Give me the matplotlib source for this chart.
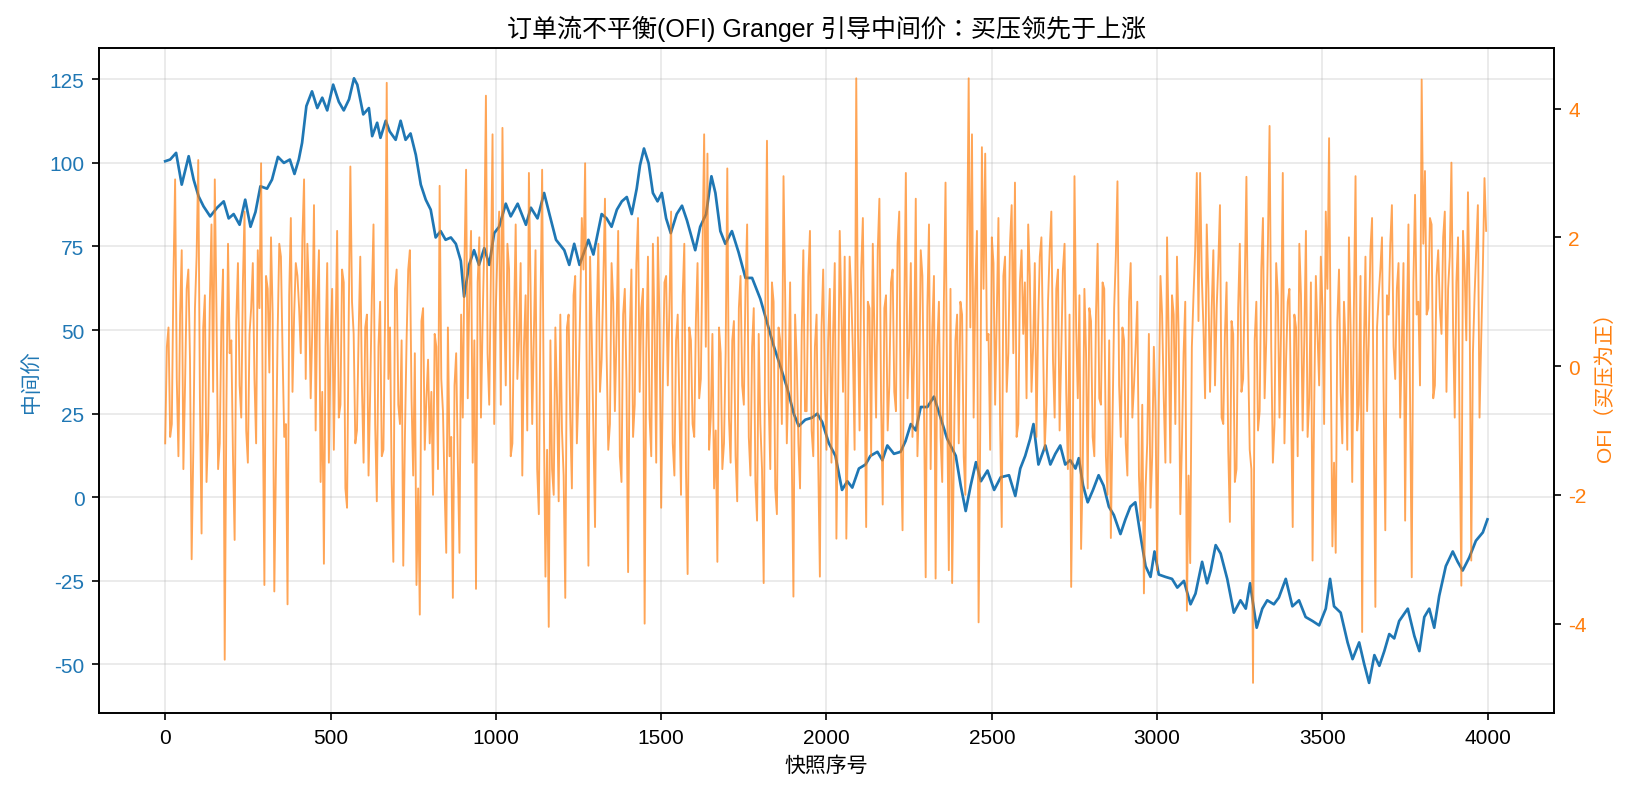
import numpy as np
import matplotlib
matplotlib.use("Agg")
import matplotlib.pyplot as plt

plt.rcParams['font.family'] = ['Liberation Sans', 'Noto Sans CJK JP', 'DejaVu Sans']
plt.rcParams['axes.unicode_minus'] = False

# mid price at irregular snapshot positions
mid_x = [0, 15, 33, 50, 71, 86, 101, 116, 136, 157, 177, 192, 207, 225, 242, 258, 273, 288,
         308, 323, 341, 359, 377, 391, 404, 414, 427, 444, 460, 475, 490, 508, 525, 540, 556,
         571, 581, 599, 616, 626, 641, 651, 667, 679, 697, 712, 727, 742, 758, 773, 788, 803,
         818, 833, 848, 864, 879, 894, 904, 919, 934, 949, 965, 980, 995, 1010, 1030, 1045,
         1066, 1091, 1106, 1126, 1146, 1162, 1182, 1207, 1222, 1237, 1253, 1280, 1295, 1320,
         1335, 1350, 1366, 1381, 1396, 1411, 1426, 1436, 1448, 1462, 1475, 1489, 1502, 1515,
         1529, 1547, 1563, 1578, 1603, 1618, 1636, 1652, 1664, 1679, 1694, 1714, 1734, 1755,
         1775, 1800, 1820, 1840, 1861, 1881, 1901, 1916, 1936, 1956, 1972, 1987, 2007, 2027,
         2047, 2063, 2078, 2098, 2118, 2133, 2154, 2169, 2184, 2204, 2224, 2239, 2255, 2270,
         2285, 2305, 2325, 2345, 2365, 2391, 2406, 2421, 2436, 2452, 2467, 2487, 2507, 2527,
         2552, 2571, 2586, 2601, 2616, 2626, 2641, 2662, 2677, 2692, 2707, 2722, 2737, 2753,
         2763, 2776, 2790, 2806, 2823, 2838, 2854, 2869, 2889, 2904, 2919, 2934, 2950, 2965,
         2980, 2992, 3005, 3025, 3045, 3061, 3081, 3101, 3116, 3136, 3151, 3162, 3177, 3192,
         3212, 3232, 3252, 3268, 3281, 3301, 3318, 3333, 3353, 3368, 3389, 3409, 3429, 3449,
         3470, 3490, 3510, 3523, 3535, 3555, 3576, 3591, 3611, 3626, 3641, 3657, 3672, 3687,
         3702, 3717, 3732, 3758, 3778, 3793, 3808, 3823, 3838, 3853, 3873, 3894, 3909, 3924,
         3944, 3964, 3985, 3999]
mid_price = [100.5, 101, 103, 93.5, 102, 95, 90, 87, 84, 86.6, 88.5, 83.4, 84.7, 81.5, 89, 80.9,
             85.3, 93, 92.3, 95, 101.8, 100, 101, 96.7, 101, 106, 117, 121.4, 116.4, 119.5,
             115.7, 123.4, 118.3, 115.7, 119, 125.3, 123.4, 114.5, 116.4, 108, 112, 107.5,
             112.6, 109.4, 106.9, 112.6, 106.9, 108.8, 102.4, 93.5, 89, 86, 77.7, 79.6, 77,
             77.7, 75.8, 70.7, 60, 69.5, 73.9, 69.5, 74.5, 69.5, 79, 80.9, 87.8, 84, 87.8,
             81.5, 86.6, 83.4, 91, 84.7, 77, 73.9, 69.5, 75.8, 69.5, 77, 72.6, 84.7, 83.4,
             80.9, 86, 88.5, 89.8, 84.7, 92.3, 99.3, 104.3, 99.9, 91, 88.5, 91, 83.4, 79,
             84.7, 87.2, 82.8, 73.9, 80.9, 84.7, 96, 91, 79.6, 75.8, 79.6, 73.3, 65.6, 65.6,
             59.3, 52.3, 45.4, 39, 32.7, 25, 21.3, 23.2, 23.8, 25, 22.5, 16.2, 12.4, 2.2, 4.8,
             2.9, 8.6, 9.8, 12.4, 13.6, 11.1, 15.5, 13, 13.6, 16.8, 21.9, 20, 27, 27, 30.1,
             23.8, 17.5, 12.4, 3.5, -4.1, 3.5, 10.5, 4.8, 8, 2.2, 6, 6.6, 0.4, 8.6, 12.4, 17.5,
             21.9, 9.8, 15.5, 9.8, 13, 15.5, 9.8, 11.1, 8.6, 11.7, 3.5, -1.5, 2.2, 6.6, 3.5,
             -2.8, -5.3, -11, -6.6, -2.8, -1.5, -11.7, -20.6, -23.8, -16.2, -23.1, -23.8,
             -24.4, -27, -25, -32, -28.8, -19.3, -25.7, -21.9, -14.3, -16.8, -24.4, -34.5,
             -30.8, -33.3, -25.7, -39, -33.3, -30.8, -32, -30, -24.4, -32.6, -30.8, -35.8,
             -37, -38.3, -33.3, -24.4, -32.6, -34.5, -43.4, -48.4, -43.4, -49.8, -55.5, -47.2,
             -50.4, -46, -40.9, -42.2, -37, -33.3, -41.5, -46, -35.8, -33.3, -39, -29.5,
             -20.6, -16.2, -19.3, -21.9, -18, -13, -10.5, -6.6]

# order flow imbalance at snapshots 0, 10, 20, ...
ofi_even = [
    -1.2, 0.6, -0.9, 2.9, -1.4, 1.8, -0.3, 1.5, -3.0, 0.9, 3.2, -2.6, 1.1, -1.0, 2.2, 2.9, -1.6, 0.7, -4.56, 1.9,
    0.4, -2.7, 1.6, -0.8, 2.4, -1.5, 0.9, -0.2, 1.8, 3.15, -3.4, 1.2, 2.0, -3.5, 0.5, 1.7, -1.1, -3.7, 2.3, 0.8,
    1.4, 0.2, 2.9, 1.9, -0.5, 2.5, 1.0, -1.8, -3.07, 1.6, 0.3, -1.3, 2.1, -0.6, 1.3, -2.2, 3.1, 0.5, -1.0, 1.7,
    -1.5, 0.8, -0.4, 2.2, -2.1, 1.0, -1.3, 4.4, 0.6, -3.04, 1.5, -0.9, -3.1, 0.4, 1.8, -1.7, -3.4, -3.86, 0.9, -0.5,
    -1.2, -2.0, 0.3, 2.8, -0.7, -2.9, -1.4, -3.6, 0.2, -2.9, -0.8, 3.05, 1.2, -1.5, -3.46, 2.0, 0.7, 4.2, -0.6, 3.6,
    0.9, 2.4, 3.7, -0.3, 1.5, -1.2, 2.2, 0.4, -1.7, 1.1, 3.0, -0.9, 1.8, -2.3, 3.05, -3.27, -4.05, -1.6, 0.6, -2.1,
    -1.0, -3.6, 0.8, -1.9, 1.4, -0.4, 2.3, 3.15, -3.1, 0.5, -2.5, 1.9, 0.1, 2.6, -1.3, 1.6, -0.7, 2.1, -1.8, 1.2,
    -3.2, 1.5, -0.6, 2.3, 0.9, -4.0, 1.7, -1.4, 0.6, 2.0, -2.2, 1.3, -0.3, 2.4, -1.7, 0.8, -2.0, 1.9, -3.23, 0.4,
    -1.1, 1.6, -0.2, 3.6, 3.3, -0.8, -1.9, -3.04, 0.2, -1.2, 3.07, -1.5, 0.7, -2.1, 1.4, -0.6, 2.2, -1.7, 0.9, -2.4,
    -0.9, -3.37, 3.5, -1.6, 1.0, -2.3, 0.4, 2.95, -1.2, 1.3, -3.58, 0.1, -1.9, 1.8, -0.7, 2.1, -1.4, 0.8, -3.27, 1.5,
    -1.3, 1.2, 0.5, -2.68, 2.1, -0.4, -2.68, 1.7, 0.2, 4.47, -1.0, 2.3, -2.5, 0.9, 1.9, -0.8, 2.6, -2.15, 1.1, -0.3,
    1.5, -0.7, 2.4, -2.55, 3.0, 0.3, -1.1, 2.6, -0.5, 1.4, -3.28, 2.2, 0.6, -3.3, 1.0, -1.8, 2.85, -3.17, -3.37, 0.4,
    -1.2, 0.8, -2.0, 4.47, 3.6, 1.2, -3.98, 3.4, 3.3, 0.5, 2.0, -0.6, 2.3, -2.5, 1.7, 0.2, 2.5, 2.85, -0.9, 1.8,
    1.3, 2.2, -0.4, 1.6, 0.6, 2.0, -1.3, 1.0, 2.4, -0.8, 1.5, 0.2, 1.9, -1.6, -3.43, 2.95, -0.5, -2.84, 1.2, -1.9,
    0.7, -1.4, 1.9, -0.6, 1.2, -2.0, -2.67, 0.9, 2.87, -1.1, 0.4, -1.7, 1.6, -0.3, 1.0, -2.4, -3.53, -1.2, -2.2, 0.3,
    -3.17, 1.4, -0.5, 2.0, -1.5, 0.8, 1.7, -2.3, 0.2, -3.8, -3.06, 1.1, 3.0, 3.0, 0.6, 2.2, -0.4, 1.8, 0.9, 2.5,
    -0.9, 1.3, -2.42, 0.5, -1.6, 1.9, -0.2, 2.94, -1.3, -4.92, 1.0, -0.7, 2.3, 0.4, 3.73, -1.5, 1.6, -0.8, 3.0, 0.1,
    1.2, -2.5, 0.6, 1.9, -1.0, 2.1, -0.5, -3.02, 1.4, -0.3, 0.9, 2.4, 3.54, -2.8, -2.9, 1.5, -1.2, 0.3, 2.0, -1.8,
    2.95, -0.6, -4.13, 1.7, 0.4, 2.3, -3.74, 1.1, 2.0, -2.55, 0.8, 2.5, -0.2, 1.6, 0.3, -2.4, 2.2, -3.28, 2.66, 1.0,
    4.45, 3.03, 0.9, 2.2, -0.3, 1.8, 0.5, 2.4, 1.2, 3.16, -0.8, 2.0, -3.41, 1.5, 2.7, -3.02, 1.1, 2.5, 0.4, 2.92,
]
# order flow imbalance at snapshots 5, 15, 25, ...
ofi_odd = [
    0.3, -1.1, 1.4, -0.2, 0.8, -1.6, 1.2, 0.1, -1.3, 1.7, -0.5, 0.6, -1.8, 1.0, -0.4, 0.9, -1.2, 1.5, -0.7, 0.2,
    -1.4, 0.7, -0.3, 1.3, -1.0, 0.5, 1.6, -1.2, 0.9, -0.6, 1.4, -0.1, 0.8, -1.5, 1.9, 0.2, -0.9, 1.1, -0.4, 1.6,
    0.9, 2.0, -0.2, 1.1, 0.6, -1.0, 1.8, -0.4, 0.3, -1.5, 1.2, 0.4, -0.8, 1.5, -1.9, 0.7, 1.0, -1.2, 0.5, -0.3,
    0.6, -1.7, 1.1, -0.9, 0.3, -1.4, 0.8, -0.2, -1.8, 1.2, -0.6, 0.4, -1.1, 1.5, -0.5, 0.2, -1.9, 0.7, -1.3, 0.1,
    -0.4, 0.5, -1.6, -0.2, -1.9, 0.6, -1.1, -0.3, -1.5, 0.8, 1.6, -0.5, 2.1, 0.4, 1.3, -0.8, 1.9, 0.2, 1.4, -0.9,
    1.8, -0.6, 1.0, 1.9, -1.4, 0.7, -0.2, 1.6, 0.3, -1.0, 1.2, 0.5, -1.6, 0.9, -0.7, -1.3, 0.4, -2.0, -0.5, 0.8,
    -1.7, 0.6, -0.8, 1.1, -1.2, 0.9, 1.5, -0.3, 1.7, -1.0, 0.7, -0.4, 1.3, 0.2, -0.9, 1.0, 0.5, -1.4, 0.8, -0.2,
    0.5, -1.1, 1.6, -0.4, 1.2, 0.2, -0.8, 1.9, -1.5, 0.7, -0.3, 1.4, 0.9, -1.2, 0.4, -0.6, 1.1, -1.6, 0.6, -0.9,
    0.7, -0.5, 1.8, 0.3, -1.3, 0.5, -1.0, 0.6, -1.6, 0.2, -0.8, 0.4, -1.4, 0.9, -0.3, 1.2, -1.1, 0.3, -1.8, 0.5,
    -1.6, 0.9, -0.5, 1.3, -1.9, 0.6, -0.9, 1.1, -0.2, -1.4, 0.8, -1.2, 0.5, -0.7, 1.4, -1.0, 0.3, -1.5, 0.6, -0.4,
    0.4, -1.5, 1.6, -0.6, 0.9, 1.7, -0.9, 1.1, -1.3, 0.6, 1.5, -0.2, 1.0, -1.4, 0.5, 1.8, -0.5, 0.9, -1.0, 1.3,
    -0.4, 1.9, -1.2, 0.7, -0.5, 1.6, 0.2, -1.4, 1.8, -0.7, 0.9, -1.6, 1.4, 0.3, -1.1, 1.0, -0.6, 1.2, -1.5, 0.8,
    1.0, -1.4, 1.5, 0.6, -0.8, 2.1, -1.0, 1.2, 0.4, -1.3, 1.6, 0.8, -0.9, 1.4, -0.4, 1.9, 0.2, -1.1, 1.3, 0.5,
    -0.5, 1.4, 0.3, -1.1, 1.7, 0.4, -0.6, 1.8, 0.1, 1.2, -1.0, 1.5, -0.4, 0.8, -1.3, 0.6, 1.1, -1.6, 0.2, 0.9,
    -1.1, 0.8, -0.5, 1.3, -1.4, 0.4, -0.9, 1.7, -0.3, 0.6, -1.2, 1.0, -0.8, 0.3, -1.7, -0.6, -1.9, 0.5, -1.4, -0.7,
    -0.6, 0.8, -1.5, 0.4, 1.1, -0.9, 0.5, -1.2, 1.0, -1.7, 0.3, 1.8, 0.7, 1.4, -0.5, 1.2, 0.9, -0.3, 1.6, -0.8,
    0.5, -1.3, 0.7, -1.8, 0.9, -0.4, 1.3, 0.2, -1.6, 0.4, -1.0, 1.5, -0.5, 1.9, 0.3, -0.9, 1.1, 0.6, -1.2, 1.0,
    -0.7, 0.8, -1.4, 1.1, 0.4, -1.1, 1.3, -0.6, 0.5, 1.7, -0.9, 1.2, 0.2, -1.5, 0.7, -0.4, 1.0, -1.3, 0.6, 0.9,
    -1.0, 1.4, 0.2, -0.7, 1.8, -0.9, 0.6, 1.5, -0.5, 1.1, 1.9, 0.3, 1.2, -0.8, 1.6, 0.5, -0.6, 1.3, 0.8, -0.3,
    1.9, 0.8, 2.3, -0.5, 1.4, 0.9, 2.0, -0.4, 1.7, 0.6, 1.3, -1.2, 2.1, 0.4, 1.0, 0.2, 1.8, -0.8, 1.5, 2.1,
]
ofi = np.column_stack([ofi_even, ofi_odd]).ravel()
ofi_x = np.arange(len(ofi)) * 5

fig, ax1 = plt.subplots(figsize=(10.9, 5.313), dpi=150)
fig.subplots_adjust(left=0.0606, right=0.9502, top=0.9385, bottom=0.104)

ax1.plot(mid_x, mid_price, color='C0', lw=1.3)
ax1.set_xlabel('快照序号')
ax1.set_ylabel('中间价', color='C0')
ax1.tick_params(axis='y', labelcolor='C0')
ax1.grid(alpha=0.3)

ax2 = ax1.twinx()
ax2.plot(ofi_x, ofi, color='C1', lw=0.9, alpha=0.7)
ax2.set_ylabel('OFI（买压为正）', color='C1')
ax2.tick_params(axis='y', labelcolor='C1')

ax1.set_title('订单流不平衡(OFI) Granger 引导中间价：买压领先于上涨', fontsize=12)

fig.savefig('out.png', dpi=150)
